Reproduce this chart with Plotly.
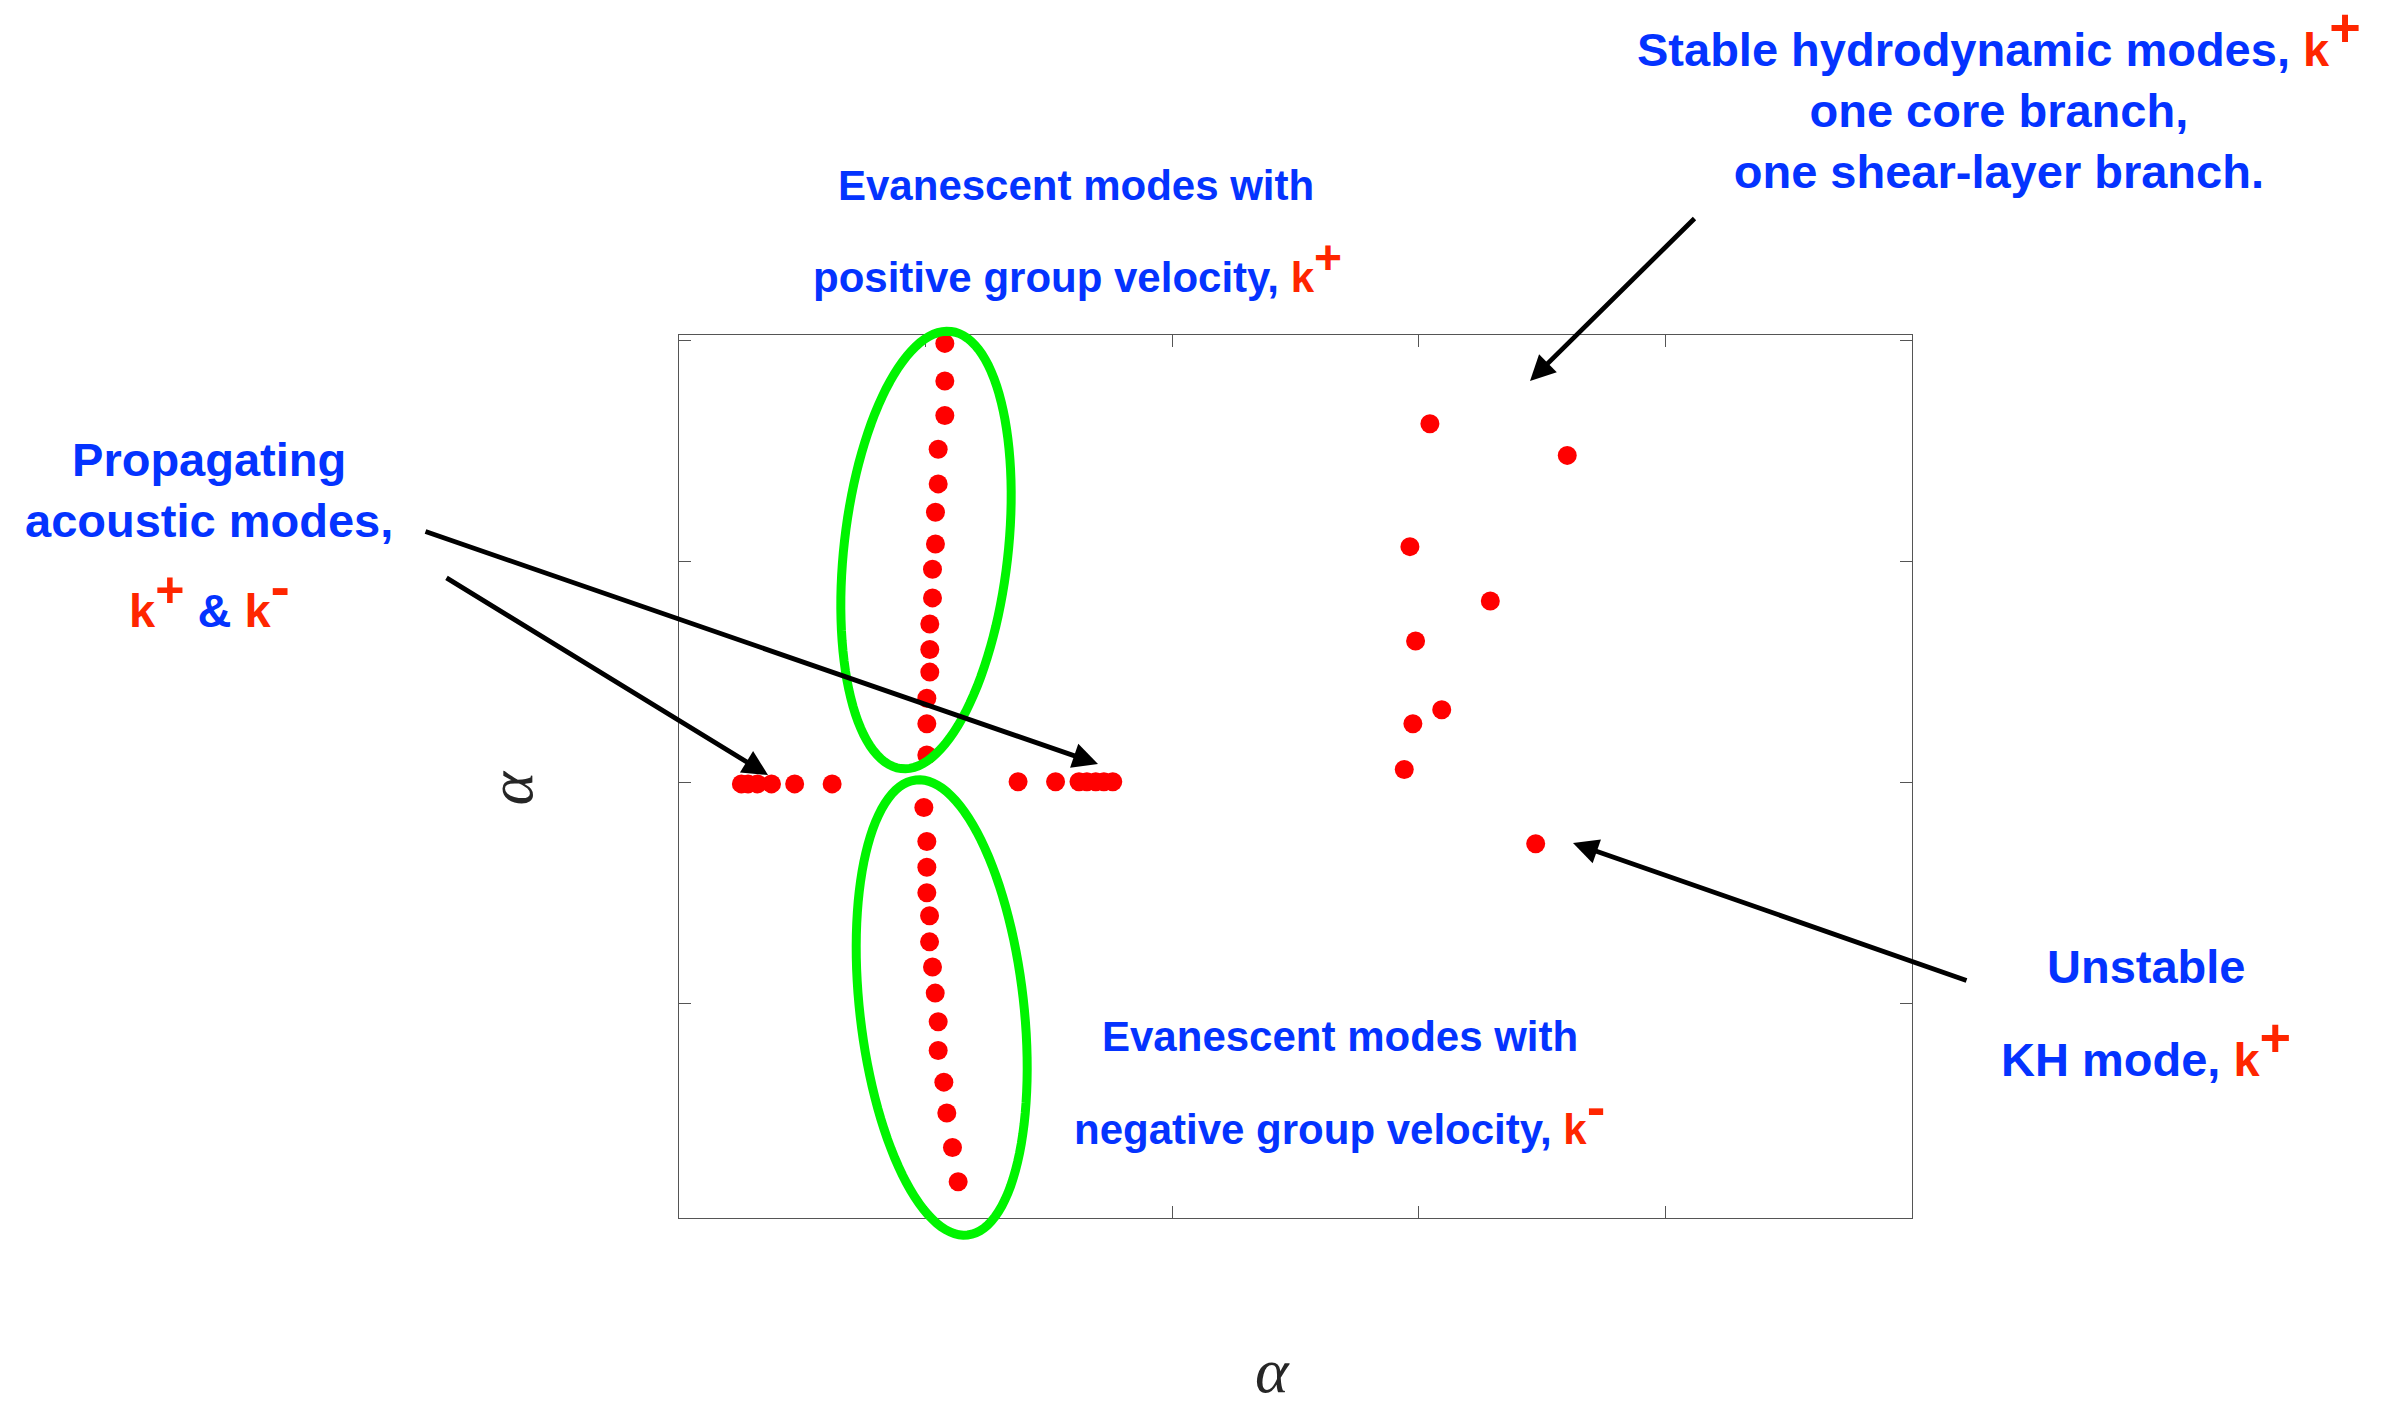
import numpy as np
import plotly.graph_objects as go

# ---- Eigenvalues in the complex alpha-plane (real part, imaginary part) ----
# Evanescent branch with positive group velocity (k+)
evan_pos_re = [0.078, 0.078, 0.078, 0.051, 0.051, 0.040, 0.040, 0.028, 0.028,
               0.017, 0.017, 0.017, 0.005, 0.005, 0.005]
evan_pos_im = [1.988, 1.818, 1.662, 1.509, 1.352, 1.224, 1.080, 0.966, 0.836,
               0.718, 0.602, 0.500, 0.382, 0.266, 0.125]
# Evanescent branch with negative group velocity (k-)
evan_neg_re = [-0.007, 0.005, 0.005, 0.005, 0.016, 0.016, 0.028, 0.039, 0.051,
               0.051, 0.074, 0.086, 0.109, 0.132]
evan_neg_im = [-0.113, -0.267, -0.383, -0.499, -0.603, -0.721, -0.835, -0.953,
               -1.083, -1.213, -1.356, -1.496, -1.652, -1.807]
# Propagating acoustic modes (k- on the left, k+ on the right)
acou_neg_re = [-0.747, -0.720, -0.682, -0.625, -0.531, -0.379]
acou_neg_im = [-0.006, -0.006, -0.006, -0.006, -0.006, -0.006]
acou_pos_re = [0.375, 0.527, 0.622, 0.654, 0.690, 0.723, 0.759]
acou_pos_im = [0.004, 0.004, 0.004, 0.004, 0.004, 0.004, 0.004]
# Stable hydrodynamic modes (core and shear-layer branches)
hydro_re = [2.045, 2.602, 1.964, 2.290, 1.987, 2.093, 1.976, 1.941]
hydro_im = [1.624, 1.481, 1.068, 0.822, 0.641, 0.330, 0.266, 0.059]
# Unstable Kelvin-Helmholtz mode
kh_re = [2.474]
kh_im = [-0.277]

# axis ticks (unlabelled)
x_ticks = [0, 1, 2, 3]
y_ticks = [-1, 0, 1, 2]

BLUE = "#0433FF"
RED = "#FF2600"
GREEN = "#00F400"
AXC = "#555555"

W, H = 2392, 1401
ML, MR, MT, MB = 679, 480, 335, 183
PW, PH = W - ML - MR, H - MT - MB


def pxx(x):
    return (x - ML) / PW


def pxy(y):
    return (H - MB - y) / PH


fig = go.Figure()
all_re = evan_pos_re + evan_neg_re + acou_neg_re + acou_pos_re + hydro_re + kh_re
all_im = evan_pos_im + evan_neg_im + acou_neg_im + acou_pos_im + hydro_im + kh_im
fig.add_trace(go.Scatter(
    x=all_re, y=all_im, mode="markers",
    marker=dict(color="#FF0000", size=19, line=dict(width=0)),
    hoverinfo="skip", showlegend=False, cliponaxis=False,
))


def ellipse_path(cx, cy, a, b, tilt_deg, n=120):
    # ellipse in pixel space (major axis near vertical, tilted by tilt_deg)
    t = np.linspace(0, 2 * np.pi, n, endpoint=False)
    th = np.deg2rad(tilt_deg)
    ux, uy = np.sin(th), -np.cos(th)      # major-axis direction
    vx, vy = np.cos(th), np.sin(th)       # minor-axis direction
    xs = cx + a * np.cos(t) * ux + b * np.sin(t) * vx
    ys = cy + a * np.cos(t) * uy + b * np.sin(t) * vy
    pts = [f"{pxx(x):.5f},{pxy(y):.5f}" for x, y in zip(xs, ys)]
    return "M" + " L".join(pts) + " Z"


shapes = [
    dict(type="path", xref="paper", yref="paper",
         path=ellipse_path(926, 550, 220, 82, 6.5),
         line=dict(color=GREEN, width=9), layer="above"),
    dict(type="path", xref="paper", yref="paper",
         path=ellipse_path(941.7, 1007.5, 229, 82, -6.5),
         line=dict(color=GREEN, width=9), layer="above"),
]

annotations = []


def label(text, x, y, size, **kw):
    d = dict(text=text, x=pxx(x), y=pxy(y), xref="paper", yref="paper",
             showarrow=False, xanchor="center", yanchor="middle",
             font=dict(family="Liberation Sans", size=size, color=BLUE))
    d.update(kw)
    annotations.append(d)


def kp(sign, size):
    # red "k" with a full-size raised sign
    return (f"<span style='color:{RED}'>k<sup>"
            f"<span style='font-size:{size}px'>{sign}</span></sup></span>")


label(f"<b>Stable hydrodynamic modes, {kp('+', 54)}<br>one core branch,<br>"
      f"one shear-layer branch.</b>", 1999, 97, 47)
label("<b>Propagating<br>acoustic modes,</b>", 209, 490, 47)
label(f"<b>{kp('+', 50)} & {kp('-', 58)}</b>", 209, 595, 47)
label("<b>Evanescent modes with</b>", 1076, 186, 42)
label(f"<b>positive group velocity, {kp('+', 48)}</b>", 1077, 266, 42)
label("<b>Evanescent modes with</b>", 1340, 1036, 42)
label(f"<b>negative group velocity, {kp('-', 56)}</b>", 1339, 1114, 42)
label("<b>Unstable</b>", 2146, 966, 47)
label(f"<b>KH mode, {kp('+', 54)}</b>", 2146, 1046, 47)

# axis labels
annotations.append(dict(text="<i>α</i>", x=pxx(472), y=pxy(788), xref="paper",
                        yref="paper", showarrow=False, textangle=-90,
                        font=dict(family="Liberation Serif", size=64, color="#262626")))
annotations.append(dict(text="<i>α</i>", x=pxx(1272), y=pxy(1408), xref="paper",
                        yref="paper", showarrow=False,
                        font=dict(family="Liberation Serif", size=64, color="#262626")))

# arrows: (tip, tail) in pixels
arrows = [((768, 775), (445, 577)),
          ((1098, 764), (424, 531)),
          ((1530, 381), (1696, 217)),
          ((1573, 843), (1968, 981))]
for (tx, ty), (sx, sy) in arrows:
    annotations.append(dict(text="", x=pxx(tx), y=pxy(ty), xref="paper", yref="paper",
                            showarrow=True, ax=sx - tx, ay=sy - ty,
                            arrowhead=2, arrowsize=1.05, arrowwidth=4.8,
                            arrowcolor="black", standoff=0))

axis_common = dict(showticklabels=False, ticks="inside", ticklen=12, tickwidth=1.3,
                   tickcolor=AXC, showline=True, linecolor=AXC, linewidth=1.3,
                   mirror="ticks", showgrid=False, zeroline=False)

fig.update_layout(
    width=W, height=H,
    margin=dict(l=ML, r=MR, t=MT, b=MB),
    paper_bgcolor="white", plot_bgcolor="white",
    xaxis=dict(range=[-1, 4], tickvals=x_ticks, **axis_common),
    yaxis=dict(range=[-1.971, 2.026], tickvals=y_ticks, **axis_common),
    shapes=shapes, annotations=annotations,
)

fig.write_html("out.html")
